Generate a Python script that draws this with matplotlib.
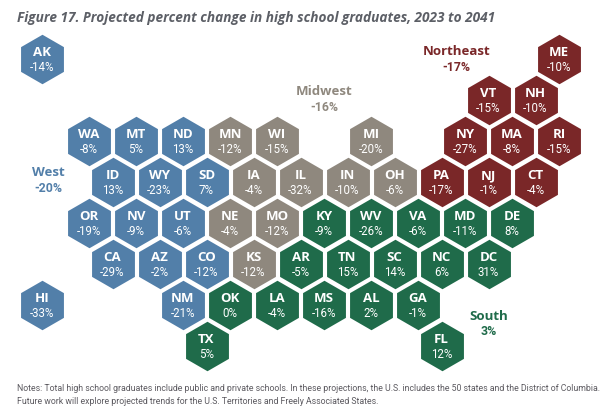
import matplotlib
matplotlib.use("Agg")
import matplotlib.pyplot as plt

# ==========================================
# Datos
# ==========================================
west = ["AK", "WA", "MT", "ND", "ID", "WY", "SD", "OR", "NV", "UT", "CA", "AZ", "CO", "HI", "NM"]
west_vals = [-14, -8, 5, 13, 13, -23, 7, -19, -9, -6, -29, -2, -12, -33, -21]
west_cols = [0, 2, 4, 6, 3, 5, 7, 2, 4, 6, 3, 5, 7, 0, 6]
west_rows = [0, 2, 2, 2, 3, 3, 3, 4, 4, 4, 5, 5, 5, 6, 6]

midwest = ["MN", "WI", "MI", "IA", "IL", "IN", "OH", "NE", "MO", "KS"]
midwest_vals = [-12, -15, -20, -4, -32, -10, -6, -4, -12, -12]
midwest_cols = [8, 10, 14, 9, 11, 13, 15, 8, 10, 9]
midwest_rows = [2, 2, 2, 3, 3, 3, 3, 4, 4, 5]

northeast = ["ME", "VT", "NH", "NY", "MA", "RI", "PA", "NJ", "CT"]
northeast_vals = [-10, -15, -10, -27, -8, -15, -17, -1, -4]
northeast_cols = [22, 19, 21, 18, 20, 22, 17, 19, 21]
northeast_rows = [0, 1, 1, 2, 2, 2, 3, 3, 3]

south = ["KY", "WV", "VA", "MD", "DE", "AR", "TN", "SC", "NC", "DC",
         "OK", "LA", "MS", "AL", "GA", "TX", "FL"]
south_vals = [-9, -26, -6, -11, 8, -5, 15, 14, 6, 31, 0, -4, -16, 2, -1, 5, 12]
south_cols = [12, 14, 16, 18, 20, 11, 13, 15, 17, 19, 8, 10, 12, 14, 16, 7, 17]
south_rows = [4, 4, 4, 4, 4, 5, 5, 5, 5, 5, 6, 6, 6, 6, 6, 7, 7]

regiones = [
    (west, west_vals, west_cols, west_rows, "#527fa9"),
    (midwest, midwest_vals, midwest_cols, midwest_rows, "#8f887e"),
    (northeast, northeast_vals, northeast_cols, northeast_rows, "#7a2728"),
    (south, south_vals, south_cols, south_rows, "#1f6b4a"),
]

titulo = "Figure 17. Projected percent change in high school graduates, 2023 to 2041"
notas = ("Notes: Total high school graduates include public and private schools. "
         "In these projections, the U.S. includes the 50 states and the District of Columbia.\n"
         "Future work will explore projected trends for the U.S. Territories and Freely Associated States.")

# ==========================================
# Figura
# ==========================================
W, H = 611, 412
fig = plt.figure(figsize=(W / 100, H / 100), dpi=100, facecolor="white")
ax = fig.add_axes([0, 0, 1, 1])
# una columna = 23.5 px, una fila = 41 px
ax.set_xlim(-42 / 23.5, (W - 42) / 23.5)
ax.set_ylim((H - 59) / 41, -59 / 41)
ax.axis("off")

fuente = ["Open Sans", "DejaVu Sans"]
angosta = ["Roboto", "DejaVu Sans"]

for nombres, valores, cols, filas, color in regiones:
    ax.scatter(cols, filas, s=1270, marker="h", color=color, linewidths=0, zorder=2)
    for nombre, valor, c, f in zip(nombres, valores, cols, filas):
        ax.text(c, f - 0.15, nombre, color="white", fontsize=9.5, fontweight="bold",
                family=fuente, ha="center", va="center", zorder=3)
        ax.text(c, f + 0.21, f"{valor}%", color="white", fontsize=8.3,
                family=angosta, ha="center", va="center", zorder=3)

# Etiquetas de región
etiquetas = [
    ("West", "-20%", 0.27, 2.93, "#527fa9"),
    ("Midwest", "-16%", 12.0, 0.95, "#8f887e"),
    ("Northeast", "-17%", 17.65, -0.03, "#7a2728"),
    ("South", "3%", 19.0, 6.42, "#1f6b4a"),
]
for nombre, valor, c, f, color in etiquetas:
    ax.text(c, f - 0.15, nombre, color=color, fontsize=9.5, fontweight="bold",
            family=fuente, ha="center", va="center")
    ax.text(c, f + 0.23, valor, color=color, fontsize=8.8, fontweight="bold",
            family=angosta, ha="center", va="center")

fig.text(17 / W, 1 - 18 / H, titulo, color="#5c5f66", fontsize=9.82, fontweight="bold",
         fontstyle="italic", family=fuente, ha="left", va="center")
fig.text(17 / W, 1 - 395 / H, notas, color="#5c5a60", fontsize=6.3, family=angosta,
         ha="left", va="center", linespacing=1.5)

fig.savefig("out.png", dpi=100)
